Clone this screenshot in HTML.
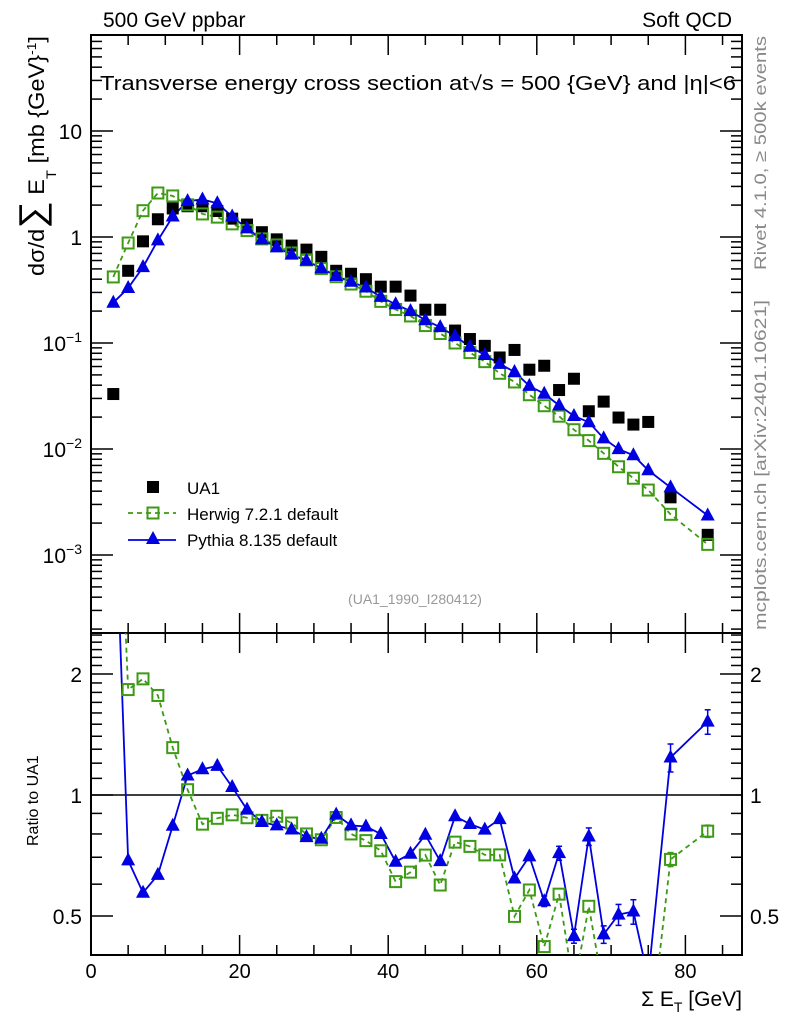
<!DOCTYPE html>
<html><head><meta charset="utf-8">
<style>
html,body{margin:0;padding:0;background:#fff;}
svg{display:block;font-family:"Liberation Sans",sans-serif;}
</style></head>
<body>
<svg id="chart" width="786" height="1024" viewBox="0 0 786 1024" xmlns="http://www.w3.org/2000/svg">
<text x="103" y="27" font-size="21">500 GeV ppbar</text>
<text x="732" y="27" font-size="21" text-anchor="end">Soft QCD</text>
<text x="100" y="90" font-size="20" textLength="636" lengthAdjust="spacingAndGlyphs">Transverse energy cross section at√s = 500 {GeV} and |η|&lt;6</text>
<text transform="translate(766,36) rotate(-90)" font-size="17" fill="#888" text-anchor="end" textLength="234" lengthAdjust="spacingAndGlyphs">Rivet 4.1.0, ≥ 500k events</text>
<text transform="translate(766,630) rotate(-90)" font-size="17" fill="#888" textLength="330" lengthAdjust="spacingAndGlyphs">mcplots.cern.ch [arXiv:2401.10621]</text>
<text transform="translate(44,276) rotate(-90)" font-size="22" textLength="240" lengthAdjust="spacingAndGlyphs">dσ/d<tspan font-size="36">∑</tspan> E<tspan font-size="14" dy="12">T</tspan><tspan dy="-12"> [mb {GeV}</tspan><tspan font-size="13" dy="-8">-1</tspan><tspan dy="8">]</tspan></text>
<text transform="translate(38,846) rotate(-90)" font-size="16">Ratio to UA1</text>
<text x="742" y="1006" font-size="21" text-anchor="end">Σ E<tspan font-size="14" dy="6">T</tspan><tspan dy="-6"> [GeV]</tspan></text>
<text x="415" y="604" font-size="14" fill="#999" text-anchor="middle">(UA1_1990_I280412)</text>
<g id="g"></g>
</svg>
<script>
const xs = [3,5,7,9,11,13,15,17,19,21,23,25,27,29,31,33,35,37,39,41,43,45,47,49,51,53,55,57,59,61,63,65,67,69,71,73,75,78,83];
const ua1 = [0.033,0.48,0.91,1.47,1.86,1.95,1.95,1.76,1.49,1.31,1.11,0.95,0.83,0.76,0.65,0.48,0.45,0.40,0.34,0.34,0.28,0.206,0.206,0.131,0.109,0.094,0.073,0.086,0.056,0.061,0.036,0.046,0.0227,0.028,0.0198,0.017,0.018,0.0035,0.00155];
const ua1RelErr = [0.02,0.01,0.01,0.01,0.01,0.01,0.01,0.01,0.01,0.01,0.01,0.01,0.01,0.01,0.01,0.01,0.01,0.01,0.01,0.01,0.01,0.01,0.01,0.01,0.01,0.01,0.01,0.02,0.02,0.03,0.04,0.04,0.05,0.05,0.06,0.07,0.07,0.08,0.07];
const herwig = [0.42,0.878,1.77,2.60,2.44,2.01,1.65,1.54,1.33,1.15,0.960,0.841,0.707,0.608,0.503,0.422,0.36,0.308,0.247,0.207,0.180,0.146,0.123,0.100,0.0812,0.0667,0.0518,0.0429,0.0325,0.0256,0.0204,0.0152,0.0120,0.0091,0.0068,0.0053,0.0041,0.00242,0.00126];
const pythia = [0.24,0.33,0.52,0.93,1.56,2.18,2.26,2.08,1.56,1.205,0.951,0.798,0.681,0.597,0.506,0.429,0.378,0.334,0.272,0.232,0.200,0.164,0.141,0.116,0.0923,0.0771,0.0636,0.0533,0.0394,0.0332,0.0258,0.0205,0.0179,0.0126,0.00998,0.00872,0.0063,0.00434,0.00236];
const xTicks = [0,20,40,60,80];
const yDecades = [-3,-2,-1,0,1];
const ratioTicks = [0.5,1,2];

const NS="http://www.w3.org/2000/svg";
const g=document.getElementById('g');
const L=91,R=742,T=35,MB=633,B=955;
const X=v=>L+v*7.43;
const Y=v=>131+(1-Math.log10(v))*106;
const RY=r=>795-Math.log2(r)*121;
function mk(tag,a,parent){const e=document.createElementNS(NS,tag);for(const k in a)e.setAttribute(k,a[k]);(parent||g).appendChild(e);return e;}
const GREEN="#3d9a14",BLUE="#0000e0";

const defs=mk('defs',{});
const c1=mk('clipPath',{id:'cm'},defs);mk('rect',{x:L,y:T,width:R-L,height:MB-T},c1);
const c2=mk('clipPath',{id:'cr'},defs);mk('rect',{x:L,y:MB,width:R-L,height:B-MB},c2);

let e;
e=mk('rect',{x:L,y:T,width:R-L,height:MB-T,fill:'none',stroke:'#000','stroke-width':2});

e=mk('rect',{x:L,y:MB,width:R-L,height:B-MB,fill:'none',stroke:'#000','stroke-width':2});


for(let v=0;v<=87;v+=5){
  const major=v%20===0, len=major?20:10, x=X(v);
  [[T,1],[MB,-1],[MB,1],[B,-1]].forEach(([y0,d])=>{mk('line',{x1:x,x2:x,y1:y0,y2:y0+d*len,stroke:'#000','stroke-width':1.5});});
}
xTicks.forEach(v=>{
  e=mk('text',{x:X(v),y:978,'font-size':20,'text-anchor':'middle'});e.textContent=v;
  
});
for(let d=-4;d<=1;d++){
  for(let m=1;m<=9;m++){
    const v=m*Math.pow(10,d), y=Y(v);
    if(y<T||y>MB)continue;
    const len=m===1?22:11;
    mk('line',{x1:L,x2:L+len,y1:y,y2:y,stroke:'#000','stroke-width':1.5});
    mk('line',{x1:R,x2:R-len,y1:y,y2:y,stroke:'#000','stroke-width':1.5});
  }
}
yDecades.forEach(d=>{
  const y=Y(Math.pow(10,d));
  e=mk('text',{x:82,y:y+8,'font-size':21,'text-anchor':'end'});
  
  if(d===1)e.textContent='10';else if(d===0)e.textContent='1';
  else{e.textContent='10';const t=mk('tspan',{dy:-9,'font-size':14},e);t.textContent='−'+(-d);}
});
for(let r=0.4;r<=2.55;r+=0.1){
  const rr=Math.round(r*10)/10,y=RY(rr);
  if(y<MB||y>B)continue;
  const major=ratioTicks.includes(rr),len=major?22:11;
  mk('line',{x1:L,x2:L+len,y1:y,y2:y,stroke:'#000','stroke-width':1.5});
  mk('line',{x1:R,x2:R-len,y1:y,y2:y,stroke:'#000','stroke-width':1.5});
}
ratioTicks.forEach(r=>{
  e=mk('text',{x:82,y:RY(r)+8,'font-size':21,'text-anchor':'end'});e.textContent=r;
  
  e=mk('text',{x:750,y:RY(r)+8,'font-size':21});e.textContent=r;
  
});
e=mk('line',{x1:L,x2:R,y1:RY(1),y2:RY(1),stroke:'#000','stroke-width':1.5});


function tri(cx,cy,col,parent){return mk('polygon',{points:`${cx},${cy-8} ${cx-7},${cy+5} ${cx+7},${cy+5}`,fill:col},parent);}
function sq(cx,cy,col,parent){return mk('rect',{x:cx-5.5,y:cy-5.5,width:11,height:11,fill:'none',stroke:col,'stroke-width':2},parent);}

const gm=mk('g',{'clip-path':'url(#cm)'});
e=mk('polyline',{points:xs.map((x,i)=>X(x)+','+Y(herwig[i])).join(' '),fill:'none',stroke:GREEN,'stroke-width':1.8,'stroke-dasharray':'5,4'},gm);

e=mk('polyline',{points:xs.map((x,i)=>X(x)+','+Y(pythia[i])).join(' '),fill:'none',stroke:BLUE,'stroke-width':1.8},gm);

xs.forEach((x,i)=>{
  e=mk('rect',{x:X(x)-6,y:Y(ua1[i])-6,width:12,height:12,fill:'#000'},gm);
  
});
xs.forEach((x,i)=>{
  e=sq(X(x),Y(herwig[i]),GREEN,gm);
  
});
xs.forEach((x,i)=>{
  e=tri(X(x),Y(pythia[i]),BLUE,gm);
  
});

const gr=mk('g',{'clip-path':'url(#cr)'});
const hr=herwig.map((v,i)=>v/ua1[i]), pr=pythia.map((v,i)=>v/ua1[i]);
e=mk('polyline',{points:xs.map((x,i)=>X(x)+','+RY(hr[i])).join(' '),fill:'none',stroke:GREEN,'stroke-width':1.8,'stroke-dasharray':'5,4'},gr);

e=mk('polyline',{points:xs.map((x,i)=>X(x)+','+RY(pr[i])).join(' '),fill:'none',stroke:BLUE,'stroke-width':1.8},gr);

function errbar(x,r,rel,col){
  if(rel<0.03)return;
  const y1=RY(r*(1+rel)),y2=RY(r*(1-rel));
  mk('line',{x1:x,x2:x,y1:y1,y2:y2,stroke:col,'stroke-width':1.5},gr);
  mk('line',{x1:x-3,x2:x+3,y1:y1,y2:y1,stroke:col,'stroke-width':1.5},gr);
  mk('line',{x1:x-3,x2:x+3,y1:y2,y2:y2,stroke:col,'stroke-width':1.5},gr);
}
xs.forEach((x,i)=>{
  errbar(X(x),hr[i],ua1RelErr[i]*0.5,GREEN);
  e=sq(X(x),RY(hr[i]),GREEN,gr);
  
});
xs.forEach((x,i)=>{
  errbar(X(x),pr[i],ua1RelErr[i],BLUE);
  e=tri(X(x),RY(pr[i]),BLUE,gr);
  
});

const lg=mk('g',{});

e=mk('rect',{x:147,y:481,width:12,height:12,fill:'#000'},lg);

e=mk('text',{x:187,y:494,'font-size':17},lg);e.textContent='UA1';

e=mk('line',{x1:128,x2:176,y1:513,y2:513,stroke:GREEN,'stroke-width':1.8,'stroke-dasharray':'5,4'},lg);

e=sq(153,513,GREEN,lg);

e=mk('text',{x:187,y:520,'font-size':17},lg);e.textContent='Herwig 7.2.1 default';

e=mk('line',{x1:128,x2:176,y1:540,y2:540,stroke:BLUE,'stroke-width':1.8},lg);

e=tri(153,539,BLUE,lg);

e=mk('text',{x:187,y:546,'font-size':17},lg);e.textContent='Pythia 8.135 default';

</script>
</body></html>
